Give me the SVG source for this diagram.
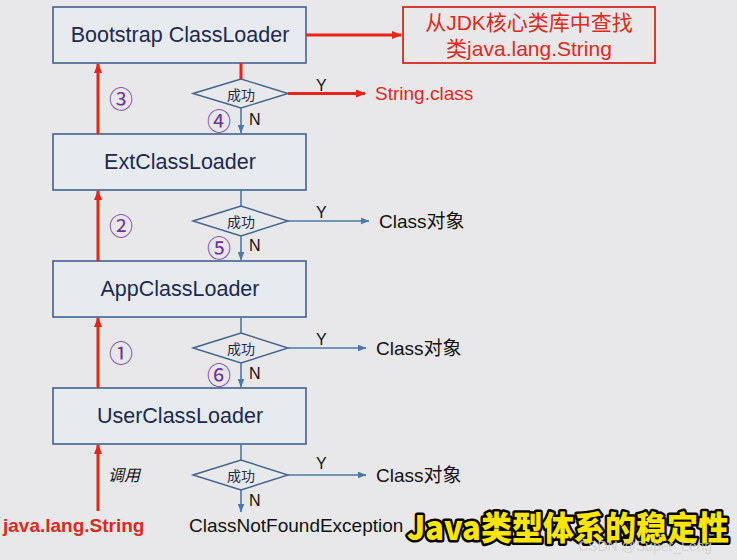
<svg xmlns="http://www.w3.org/2000/svg" width="737" height="560" viewBox="0 0 737 560">
<defs>
<marker id="ar" markerWidth="10" markerHeight="8" refX="9" refY="4" orient="auto" markerUnits="userSpaceOnUse"><path d="M0,0 L10,4 L0,8 z" fill="#e8231a"/></marker>
<marker id="ab" markerWidth="9" markerHeight="7" refX="8.5" refY="3.5" orient="auto" markerUnits="userSpaceOnUse"><path d="M0,0 L9,3.5 L0,7 z" fill="#4a78aa"/></marker>
<style>
.box{fill:#e7ebf0;stroke:#41628e;stroke-width:1.6}
.bt{font-family:"Liberation Sans",Arial,sans-serif;font-size:21.5px;fill:#1c2a4e;text-anchor:middle;dominant-baseline:central}
.dia{fill:#e8e9ec;stroke:#41628e;stroke-width:1.4}
.dt{font-family:"Noto Sans CJK SC",sans-serif;font-size:14px;fill:#1c2a4e;text-anchor:middle;dominant-baseline:central}
.red{stroke:#e8231a;stroke-width:3;fill:none}
.blu{stroke:#4a78aa;stroke-width:1.6;fill:none}
.lbl{font-family:"Liberation Sans","Noto Sans CJK SC",sans-serif;font-size:16px;fill:#111;dominant-baseline:central}
.out{font-family:"Liberation Sans","Noto Sans CJK SC",sans-serif;font-size:19px;fill:#111;dominant-baseline:central}
.num{font-family:"Noto Sans CJK SC","DejaVu Sans",sans-serif;font-size:24px;fill:#7030a0;text-anchor:middle;dominant-baseline:central}
</style>
</defs>
<rect width="737" height="560" fill="#e8e8ea"/>

<g id="bootstrap"><rect class="box" x="53" y="7" width="253" height="56"/><text class="bt" x="180" y="35">Bootstrap ClassLoader</text></g>
<g id="ext"><rect class="box" x="53" y="134" width="253" height="56"/><text class="bt" x="180" y="162">ExtClassLoader</text></g>
<g id="app"><rect class="box" x="53" y="261" width="253" height="56"/><text class="bt" x="180" y="289">AppClassLoader</text></g>
<g id="user"><rect class="box" x="53" y="388" width="253" height="56"/><text class="bt" x="180" y="416">UserClassLoader</text></g>

<g id="jdk"><rect x="403" y="7" width="252" height="56" fill="#e8e8ea" stroke="#d42a22" stroke-width="1.8"/>
<text x="529" y="22" font-family="Liberation Sans,'Noto Sans CJK SC',sans-serif" font-size="21" fill="#e0281d" text-anchor="middle" dominant-baseline="central">从JDK核心类库中查找</text>
<text x="529" y="48" font-family="Liberation Sans,'Noto Sans CJK SC',sans-serif" font-size="21" fill="#e0281d" text-anchor="middle" dominant-baseline="central">类java.lang.String</text></g>

<g id="d1"><polygon class="dia" points="193,93.5 241,79 288,93.5 241,108"/><text class="dt" x="241" y="94">成功</text></g>
<g id="d2"><polygon class="dia" points="193,221 241,206 288,221 241,236"/><text class="dt" x="241" y="221">成功</text></g>
<g id="d3"><polygon class="dia" points="193,348 241,333 288,348 241,363"/><text class="dt" x="241" y="348">成功</text></g>
<g id="d4"><polygon class="dia" points="193,475 241,460 288,475 241,490"/><text class="dt" x="241" y="475">成功</text></g>

<g id="connectors">
<line class="red" x1="306" y1="35" x2="401" y2="35" marker-end="url(#ar)"/>
<line class="red" x1="98" y1="134" x2="98" y2="64" marker-end="url(#ar)"/>
<line class="red" x1="98" y1="261" x2="98" y2="191" marker-end="url(#ar)"/>
<line class="red" x1="98" y1="388" x2="98" y2="318" marker-end="url(#ar)"/>
<line class="red" x1="98" y1="511" x2="98" y2="445" marker-end="url(#ar)"/>
<line class="red" x1="241" y1="63" x2="241" y2="79"/>
<line class="red" x1="288" y1="93.5" x2="365" y2="93.5" marker-end="url(#ar)"/>
<line class="blu" x1="241" y1="108" x2="241" y2="133" marker-end="url(#ab)"/>
<line class="blu" x1="241" y1="190" x2="241" y2="206"/>
<line class="blu" x1="288" y1="221" x2="369" y2="221" marker-end="url(#ab)"/>
<line class="blu" x1="241" y1="236" x2="241" y2="260" marker-end="url(#ab)"/>
<line class="blu" x1="241" y1="317" x2="241" y2="333"/>
<line class="blu" x1="288" y1="348" x2="366" y2="348" marker-end="url(#ab)"/>
<line class="blu" x1="241" y1="363" x2="241" y2="387" marker-end="url(#ab)"/>
<line class="blu" x1="241" y1="444" x2="241" y2="460"/>
<line class="blu" x1="288" y1="475" x2="366" y2="475" marker-end="url(#ab)"/>
<line class="blu" x1="241" y1="490" x2="241" y2="512" marker-end="url(#ab)"/>
</g>

<g id="labels">
<text class="lbl" x="316" y="85">Y</text>
<text class="lbl" x="316" y="212">Y</text>
<text class="lbl" x="316" y="339">Y</text>
<text class="lbl" x="316" y="463">Y</text>
<text class="lbl" x="249" y="119">N</text>
<text class="lbl" x="249" y="245">N</text>
<text class="lbl" x="249" y="373">N</text>
<text class="lbl" x="249" y="500">N</text>
<text class="num" x="121" y="97">③</text>
<text class="num" x="121" y="224">②</text>
<text class="num" x="121" y="351">①</text>
<text class="num" x="219" y="119">④</text>
<text class="num" x="219" y="246">⑤</text>
<text class="num" x="219" y="373">⑥</text>
<text x="375" y="93" font-family="Liberation Sans,sans-serif" font-size="19" fill="#e0281d" dominant-baseline="central">String.class</text>
<text class="out" x="379" y="221">Class对象</text>
<text class="out" x="376" y="348">Class对象</text>
<text class="out" x="376" y="475">Class对象</text>
<text class="out" x="189" y="525">ClassNotFoundException</text>
<text x="108" y="474" font-family="'Noto Sans CJK SC',sans-serif" font-size="16" font-style="italic" fill="#111" dominant-baseline="central">调用</text>
<text x="3" y="525" font-family="Liberation Sans,sans-serif" font-size="19" font-weight="bold" fill="#e0281d" dominant-baseline="central">java.lang.String</text>
</g>

<g id="caption">
<text x="407" y="526" textLength="322" lengthAdjust="spacingAndGlyphs" font-family="'Noto Sans CJK SC',sans-serif" font-size="33" font-weight="900" fill="#ffe600" stroke="#000" stroke-width="5" stroke-linejoin="round" paint-order="stroke" dominant-baseline="central">Java类型体系的稳定性</text>
<text x="578" y="546" font-family="Liberation Sans,sans-serif" font-size="14" fill="#cfcfcf" fill-opacity="0.85" dominant-baseline="central">CSDN @Super_Leng</text>
</g>
</svg>
